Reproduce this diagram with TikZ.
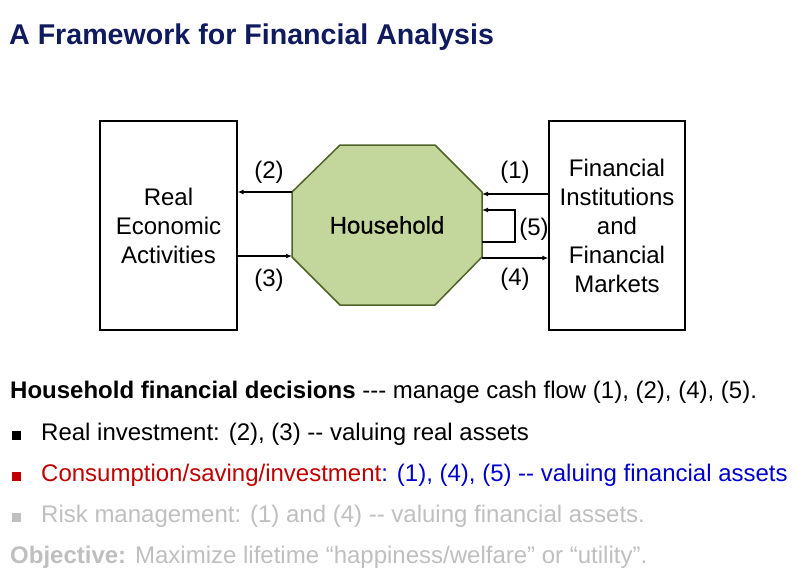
\documentclass[tikz,border=0pt]{standalone}
\usepackage{fontspec}
\setmainfont{Liberation Sans}[Ligatures=TeXOff]
\newfontfamily\hhfont{Liberation Sans}[FakeBold=0.6]
\usetikzlibrary{arrows.meta}
\definecolor{navy}{RGB}{16,26,94}
\definecolor{hhfill}{RGB}{195,214,155}
\definecolor{hhdraw}{RGB}{79,98,40}
\definecolor{dred}{RGB}{192,0,0}
\definecolor{dblue}{RGB}{0,0,204}
\definecolor{lgray}{RGB}{191,191,191}
\begin{document}
\begin{tikzpicture}[x=1pt,y=-1pt,
  box/.style={draw, line width=1.3pt, minimum width=137pt, minimum height=209pt, align=center, inner sep=0pt, font=\fontsize{24}{29}\selectfont},
  lbl/.style={font=\fontsize{24}{29}\selectfont, inner sep=0pt},
  arr/.style={line width=1.2pt, -{Latex[length=6pt,width=5pt]}},
  txt/.style={anchor=base west, inner sep=0pt, font=\fontsize{24}{29}\selectfont},
  bul/.style={minimum size=9pt, inner sep=0pt, draw=none}]
\useasboundingbox (0,0) rectangle (797,573);
\node[anchor=base west, inner sep=0pt, font=\bfseries\fontsize{28.6}{34}\selectfont, text=navy] (title) at (9,44) {A Framework for Financial Analysis};
% boxes
\node[box] (rea) at (168.5,225.5) {Real\\Economic\\Activities};
\node[box, minimum width=136pt] (fim) at (617,225.5) {Financial\\Institutions\\and\\Financial\\Markets};
% octagon
\draw[fill=hhfill, draw=hhdraw, line width=1.5pt] (340,145) -- (435,145) -- (482,192) -- (482,257) -- (435,305) -- (340,305) -- (292,257) -- (292,192) -- cycle;
\node[lbl, font=\hhfont\fontsize{24}{29}\selectfont] (hh) at (387,225) {Household};
\coordinate (hhL2) at (292,192);
\coordinate (hhL3) at (292,256);
\coordinate (hhR1) at (482,194);
\coordinate (hhR5a) at (482,242);
\coordinate (hhR5b) at (482,210);
\coordinate (hhR4) at (482,258);
\coordinate (loopx) at (515,0);
\draw[arr] (hhL2) -- (hhL2 -| rea.east);
\draw[arr] (hhL3 -| rea.east) -- (hhL3);
\draw[arr] (hhR1 -| fim.west) -- (hhR1);
\draw[arr] (hhR4) -- (hhR4 -| fim.west);
\draw[arr] (hhR5a) -- (hhR5a -| loopx) -- (hhR5b -| loopx) -- (hhR5b);
\node[lbl] (n2) at (269,172) {(2)};
\node[lbl] (n3) at (269,280) {(3)};
\node[lbl] (n1) at (515,172) {(1)};
\node[lbl] (n4) at (515,279) {(4)};
\node[lbl] (n5) at (534,229) {(5)};
% text
\node[txt] (l1) at (10,398) {\textbf{Household financial decisions} --- manage cash flow (1), (2), (4), (5).};
\node[bul, fill=black] (b2) at (16.5,435.5) {};
\node[txt] (l2) at (41,440) {Real investment: (2), (3) -- valuing real assets};
\node[bul, fill=dred] (b3) at (16.5,476.5) {};
\node[txt, text=dred] (l3) at (41,481) {Consumption/saving/investment\textcolor{dblue}{: (1), (4), (5) -- valuing financial assets}};
\node[bul, fill=lgray] (b4) at (16.5,517.5) {};
\node[txt, text=lgray] (l4) at (41,522) {Risk management: (1) and (4) -- valuing financial assets.};
\node[txt, text=lgray] (l5) at (10,563) {\textbf{Objective:} Maximize lifetime “happiness/welfare” or “utility”.};
\end{tikzpicture}
\end{document}
